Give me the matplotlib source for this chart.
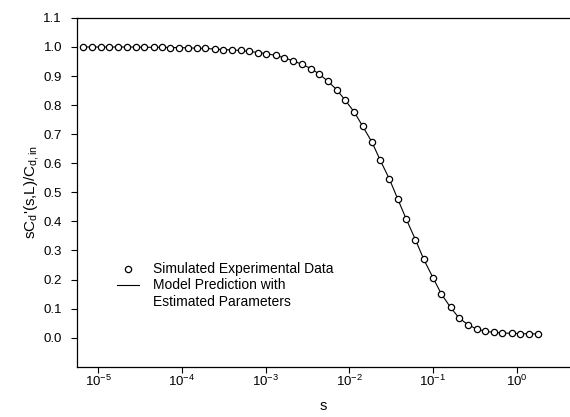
import numpy as np
import matplotlib
matplotlib.use("Agg")
import matplotlib.pyplot as plt
from matplotlib.lines import Line2D
from matplotlib.ticker import LogLocator, NullLocator, FixedLocator

plt.rcParams['font.family'] = ['Liberation Sans', 'DejaVu Sans']
plt.rcParams['mathtext.fontset'] = 'custom'
plt.rcParams['mathtext.rm'] = 'Liberation Sans'
plt.rcParams['mathtext.it'] = 'Liberation Sans:italic'
plt.rcParams['mathtext.default'] = 'regular'
plt.rcParams['axes.unicode_minus'] = False

# exponent of s (log10) for each simulated point
log_s = [-5.18, -5.08, -4.97, -4.87, -4.76, -4.66, -4.55, -4.45, -4.34, -4.24,
         -4.14, -4.03, -3.93, -3.82, -3.72, -3.61, -3.51, -3.40, -3.30, -3.20,
         -3.09, -2.99, -2.88, -2.78, -2.67, -2.57, -2.46, -2.36, -2.26, -2.15,
         -2.05, -1.94, -1.84, -1.73, -1.63, -1.52, -1.42, -1.32, -1.21, -1.11,
         -1.00, -0.90, -0.79, -0.69, -0.58, -0.48, -0.38, -0.27, -0.17, -0.06,
         0.04, 0.15, 0.25]

# normalised response sCd'(s,L)/Cd,in
resp = [1.000, 1.000, 1.000, 1.000, 1.000, 1.000, 1.000, 0.999, 0.999, 0.999,
        0.998, 0.998, 0.997, 0.996, 0.995, 0.993, 0.991, 0.990, 0.988, 0.985,
        0.981, 0.977, 0.971, 0.963, 0.952, 0.941, 0.926, 0.907, 0.883, 0.853,
        0.817, 0.776, 0.727, 0.673, 0.610, 0.545, 0.476, 0.408, 0.337, 0.269,
        0.206, 0.150, 0.104, 0.068, 0.044, 0.030, 0.022, 0.018, 0.016, 0.015,
        0.014, 0.013, 0.013]

yticks = [0.0, 0.1, 0.2, 0.3, 0.4, 0.5, 0.6, 0.7, 0.8, 0.9, 1.0, 1.1]

s = 10.0 ** np.array(log_s)

fig = plt.figure(figsize=(5.70, 4.17), dpi=100)
ax = fig.add_axes([0.1357, 0.1206, 1.0 - 0.1357, 0.957 - 0.1206])

line, = ax.plot(s, resp, '-', color='black', lw=0.8)
pts, = ax.plot(s, resp, 'o', color='black', mfc='white', mec='black',
               ms=4.5, mew=0.9)

ax.set_xscale('log')
ax.set_xlim(10 ** -5.25, 10 ** 0.637)
ax.set_ylim(-0.1, 1.1)
ax.xaxis.set_major_locator(LogLocator(base=10, numticks=20))
ax.xaxis.set_minor_locator(NullLocator())
ax.yaxis.set_major_locator(FixedLocator(yticks))
ax.set_yticklabels(['%.1f' % v for v in yticks])

ax.spines['right'].set_visible(False)
for sp in ax.spines.values():
    sp.set_linewidth(0.9)
ax.tick_params(direction='out', length=4, width=0.8, labelsize=9.5, pad=1)
ax.tick_params(axis='y', pad=7)

ax.set_xlabel('s', fontsize=10.5, labelpad=7)
ax.set_ylabel("sC$_d$'(s,L)/C$_{d,in}$", fontsize=11, labelpad=2)

# third row carries the wrapped part of the model label, with no handle
blank = Line2D([], [], linestyle='none', marker=None)
ax.legend([pts, line, blank],
          ['Simulated Experimental Data', 'Model Prediction with',
           'Estimated Parameters'],
          loc='upper left', bbox_to_anchor=(0.055, 0.335), frameon=False,
          fontsize=10, handlelength=1.6, handletextpad=1.0, labelspacing=0.15)

fig.savefig('out.png', dpi=100)
